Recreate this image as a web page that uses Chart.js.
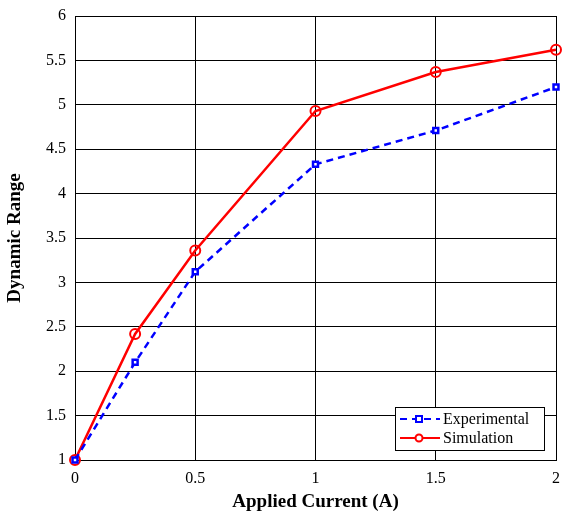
<!DOCTYPE html>
<html>
<head>
<meta charset="utf-8">
<script src="https://cdn.jsdelivr.net/npm/chart.js@4"></script>
<style>
  html, body { margin: 0; padding: 0; background: #fff; }
  #wrap { width: 563px; height: 512px; }
</style>
</head>
<body>
<div id="wrap"><canvas id="chart" width="563" height="512"></canvas></div>
<script>
const currents = [0, 0.25, 0.5, 1, 1.5, 2];
const experimental = [1, 2.1, 3.12, 4.33, 4.71, 5.2];
const simulation = [1, 2.42, 3.36, 4.93, 5.37, 5.62];
const xTicks = [0, 0.5, 1, 1.5, 2];
const yTicks = [1, 1.5, 2, 2.5, 3, 3.5, 4, 4.5, 5, 5.5, 6];

const toPoints = (vals) => currents.map((x, i) => ({ x: x, y: vals[i] }));

// legend drawn inside the plot box, bottom right
const boxLegend = {
  id: "boxLegend",
  afterDraw(chart) {
    const ctx = chart.ctx;
    const area = chart.chartArea;
    const w = 149, h = 43;
    const x0 = area.right - 12 - w, y0 = area.bottom - 10 - h;
    ctx.save();
    ctx.fillStyle = "#fff";
    ctx.fillRect(x0, y0, w, h);
    ctx.strokeStyle = "#000";
    ctx.lineWidth = 1;
    ctx.strokeRect(x0 + 0.5, y0 + 0.5, w, h);
    ctx.font = "16px 'Liberation Serif'";
    ctx.textBaseline = "middle";
    chart.data.datasets.forEach((ds, i) => {
      const yy = y0 + 12 + i * 19;
      ctx.strokeStyle = ds.borderColor;
      ctx.lineWidth = 2;
      ctx.setLineDash(ds.borderDash || []);
      ctx.beginPath();
      ctx.moveTo(x0 + 5, yy);
      ctx.lineTo(x0 + 45, yy);
      ctx.stroke();
      ctx.setLineDash([]);
      ctx.fillStyle = "#fff";
      if (ds.pointStyle === "rect") {
        ctx.fillRect(x0 + 21, yy - 3, 6, 6);
        ctx.strokeRect(x0 + 21, yy - 3, 6, 6);
      } else {
        ctx.beginPath();
        ctx.arc(x0 + 24, yy, 3.5, 0, Math.PI * 2);
        ctx.fill();
        ctx.stroke();
      }
      ctx.fillStyle = "#000";
      ctx.fillText(ds.label, x0 + 48, yy + 1);
    });
    ctx.restore();
  }
};

const tickFont = { family: "'Liberation Serif'", size: 16 };
const titleFont = { family: "'Liberation Serif'", size: 19, weight: "bold", lineHeight: 1 };

new Chart(document.getElementById("chart"), {
  type: "line",
  data: {
    datasets: [
      {
        label: "Experimental",
        data: toPoints(experimental),
        borderColor: "#0000ff",
        borderWidth: 2.5,
        borderDash: [7, 5],
        pointStyle: "rect",
        pointRadius: 3.5,
        pointBorderWidth: 2.5,
        pointBackgroundColor: "#ffffff",
        pointBorderColor: "#0000ff",
        fill: false,
        tension: 0
      },
      {
        label: "Simulation",
        data: toPoints(simulation),
        borderColor: "#ff0000",
        borderWidth: 2.5,
        pointStyle: "circle",
        pointRadius: 5,
        pointBorderWidth: 2,
        pointBackgroundColor: "rgba(255,255,255,0)",
        pointBorderColor: "#ff0000",
        fill: false,
        tension: 0
      }
    ]
  },
  options: {
    responsive: false,
    animation: false,
    clip: false,
    layout: { padding: { top: 16, right: 0, left: 6, bottom: 0 } },
    plugins: { legend: { display: false }, tooltip: { enabled: false } },
    scales: {
      x: {
        type: "linear",
        min: 0,
        max: 2,
        afterBuildTicks: (axis) => { axis.ticks = xTicks.map((v) => ({ value: v })); },
        afterFit: (axis) => {
          axis.height = 52;
          axis.paddingRight = 0;
          axis.paddingLeft = 0;
        },
        // invisible tick marks give the label gap, so tick padding stays 0
        grid: { color: "#000", lineWidth: 1, drawTicks: true, tickLength: 9, tickColor: "rgba(0,0,0,0)" },
        border: { color: "#000", width: 1 },
        ticks: {
          color: "#000",
          padding: 0,
          font: tickFont,
          callback: (v) => String(v)
        },
        title: {
          display: true,
          text: "Applied Current (A)",
          color: "#000",
          padding: { top: 1, bottom: 0 },
          font: titleFont
        }
      },
      y: {
        min: 1,
        max: 6,
        afterBuildTicks: (axis) => { axis.ticks = yTicks.map((v) => ({ value: v })); },
        afterFit: (axis) => {
          axis.paddingTop = 0;
          axis.paddingBottom = 0;
        },
        grid: { color: "#000", lineWidth: 1, drawTicks: false },
        border: { color: "#000", width: 1 },
        ticks: {
          color: "#000",
          padding: 9,
          font: tickFont,
          callback: (v) => String(v)
        },
        title: {
          display: true,
          text: "Dynamic Range",
          color: "#000",
          padding: { top: 0, bottom: 12 },
          font: titleFont
        }
      }
    }
  },
  plugins: [boxLegend]
});
</script>
</body>
</html>
